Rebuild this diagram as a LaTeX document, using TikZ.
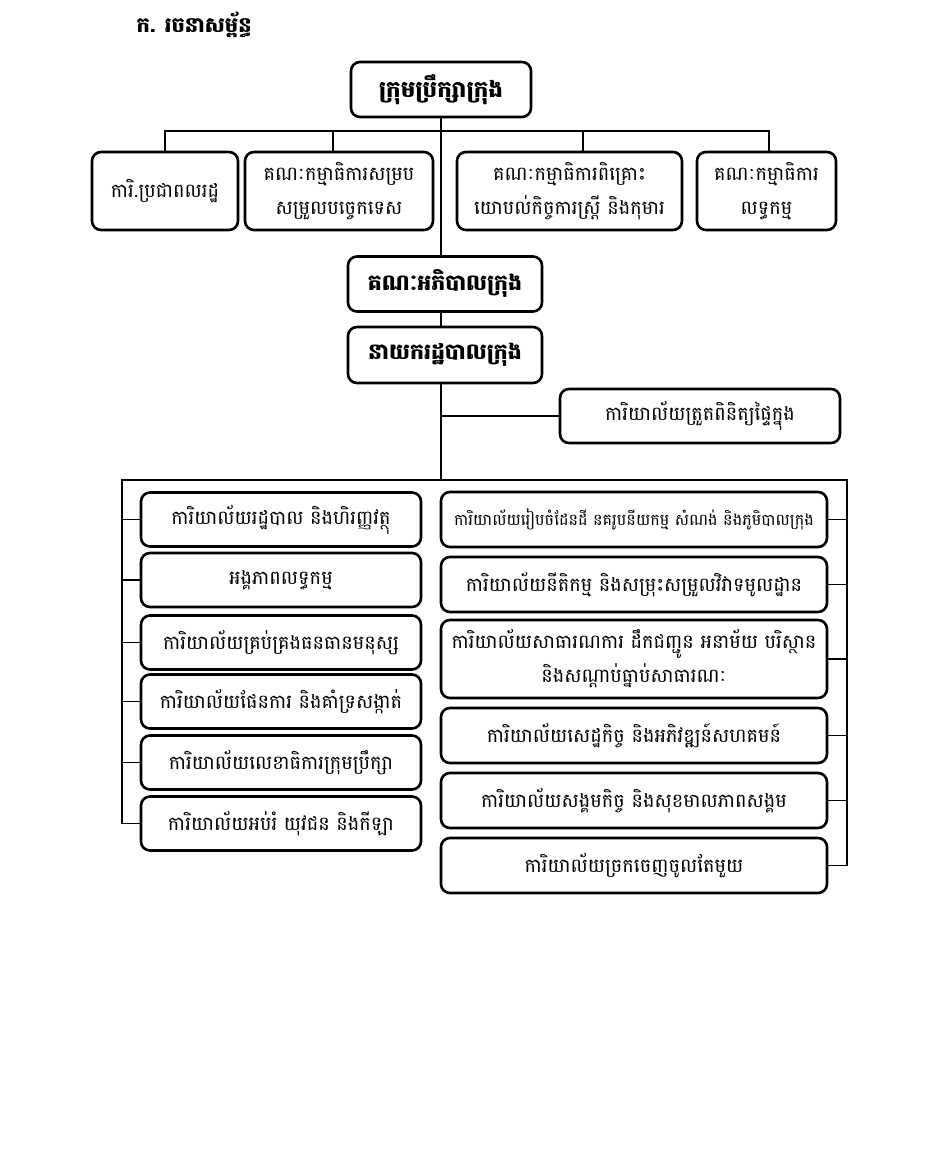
\documentclass[tikz,border=0pt]{standalone}
\usepackage{fontspec}
\setmainfont[Script=Khmer]{Battambang}
\begin{document}
\begin{tikzpicture}[x=1pt,y=-1pt,
  box/.style={draw, line width=2.6pt, rounded corners=9pt, align=center, inner sep=0pt,
    font=\fontsize{19.3}{34}\selectfont},
  hbox/.style={box, font=\fontsize{22}{26}\selectfont\bfseries},
  conn/.style={line width=1.3pt}]
\useasboundingbox[fill=white] (0,0) rectangle (931,1165);
\node[anchor=west, font=\fontsize{21}{24}\selectfont\bfseries] (title) at (133,25) {ក. រចនាសម្ព័ន្ធ};
% top
\node[hbox, minimum width=180pt, minimum height=55pt, font=\fontsize{23}{26}\selectfont\bfseries] (council) at (441,89.5) {ក្រុមប្រឹក្សាក្រុង};
\node[box, minimum width=146pt, minimum height=78pt] (citizen) at (165,191) {ការិ.ប្រជាពលរដ្ឋ};
\node[box, minimum width=188pt, minimum height=78pt] (tech) at (339,191) {គណៈកម្មាធិការសម្រប\\សម្រួលបច្ចេកទេស};
\node[box, minimum width=225pt, minimum height=78pt] (women) at (569.5,191) {គណៈកម្មាធិការពិគ្រោះ\\យោបល់កិច្ចការស្ត្រី និងកុមារ};
\node[box, minimum width=139pt, minimum height=78pt] (proc) at (766.5,191) {គណៈកម្មាធិការ\\លទ្ធកម្ម};
\node[hbox, minimum width=194pt, minimum height=55pt] (gov) at (445,284) {គណៈអភិបាលក្រុង};
\node[hbox, minimum width=194pt, minimum height=56pt] (admin) at (445,355) {នាយករដ្ឋបាលក្រុង};
\node[box, minimum width=280pt, minimum height=54pt] (audit) at (700,416) {ការិយាល័យត្រួតពិនិត្យផ្ទៃក្នុង};
% left column
\node[box, minimum width=280pt, minimum height=54pt] (l1) at (281,519.5) {ការិយាល័យរដ្ឋបាល និងហិរញ្ញវត្ថុ};
\node[box, minimum width=280pt, minimum height=54pt] (l2) at (281,580) {អង្គភាពលទ្ធកម្ម};
\node[box, minimum width=280pt, minimum height=54pt] (l3) at (281,642.5) {ការិយាល័យគ្រប់គ្រងធនធានមនុស្ស};
\node[box, minimum width=280pt, minimum height=54pt] (l4) at (281,701.5) {ការិយាល័យផែនការ និងគាំទ្រសង្កាត់};
\node[box, minimum width=280pt, minimum height=54pt] (l5) at (281,762.5) {ការិយាល័យលេខាធិការក្រុមប្រឹក្សា};
\node[box, minimum width=280pt, minimum height=54pt] (l6) at (281,823.5) {ការិយាល័យអប់រំ យុវជន និងកីឡា};
% right column
\node[box, minimum width=386pt, minimum height=55pt, font=\fontsize{16}{22}\selectfont] (r1) at (634,519.5) {ការិយាល័យរៀបចំដែនដី នគរូបនីយកម្ម សំណង់ និងភូមិបាលក្រុង};
\node[box, minimum width=386pt, minimum height=55pt] (r2) at (634,584.5) {ការិយាល័យនីតិកម្ម និងសម្រុះសម្រួលវិវាទមូលដ្ឋាន};
\node[box, minimum width=386pt, minimum height=78pt] (r3) at (634,659) {ការិយាល័យសាធារណការ ដឹកជញ្ជូន អនាម័យ បរិស្ថាន\\និងសណ្តាប់ធ្នាប់សាធារណៈ};
\node[box, minimum width=386pt, minimum height=55pt] (r4) at (634,735.5) {ការិយាល័យសេដ្ឋកិច្ច និងអភិវឌ្ឍន៍សហគមន៍};
\node[box, minimum width=386pt, minimum height=55pt] (r5) at (634,800.5) {ការិយាល័យសង្គមកិច្ច និងសុខមាលភាពសង្គម};
\node[box, minimum width=386pt, minimum height=55pt] (r6) at (634,865.5) {ការិយាល័យច្រកចេញចូលតែមួយ};
% connectors
\coordinate (bus) at (441,131);
\coordinate (bl) at (122,480);
\coordinate (br) at (847,480);
\coordinate (trunkbot) at (441,480);
\draw[conn] (council.south) -- (council.south |- gov.north);
\draw[conn] (citizen.north) -- (citizen.north |- bus) -- ([xshift=2.5pt]proc.north |- bus) -- ([xshift=2.5pt]proc.north);
\draw[conn] ([xshift=-6pt]tech.north) -- ([xshift=-6pt]tech.north |- bus);
\draw[conn] ([xshift=13.5pt]women.north) -- ([xshift=13.5pt]women.north |- bus);
\draw[conn] (gov.south -| council.south) -- (admin.north -| council.south);
\draw[conn] (admin.south -| council.south) -- (trunkbot);
\draw[conn] (audit.west) -- (audit.west -| trunkbot);
\draw[conn] (l6.west -| bl) -- (bl) -- (br) -- (r6.east -| br);
\foreach \n in {l1,l2,l3,l4,l5,l6} \draw[conn] (\n.west) -- (\n.west -| bl);
\foreach \n in {r1,r2,r3,r4,r5,r6} \draw[conn] (\n.east) -- (\n.east -| br);
\end{tikzpicture}
\end{document}
